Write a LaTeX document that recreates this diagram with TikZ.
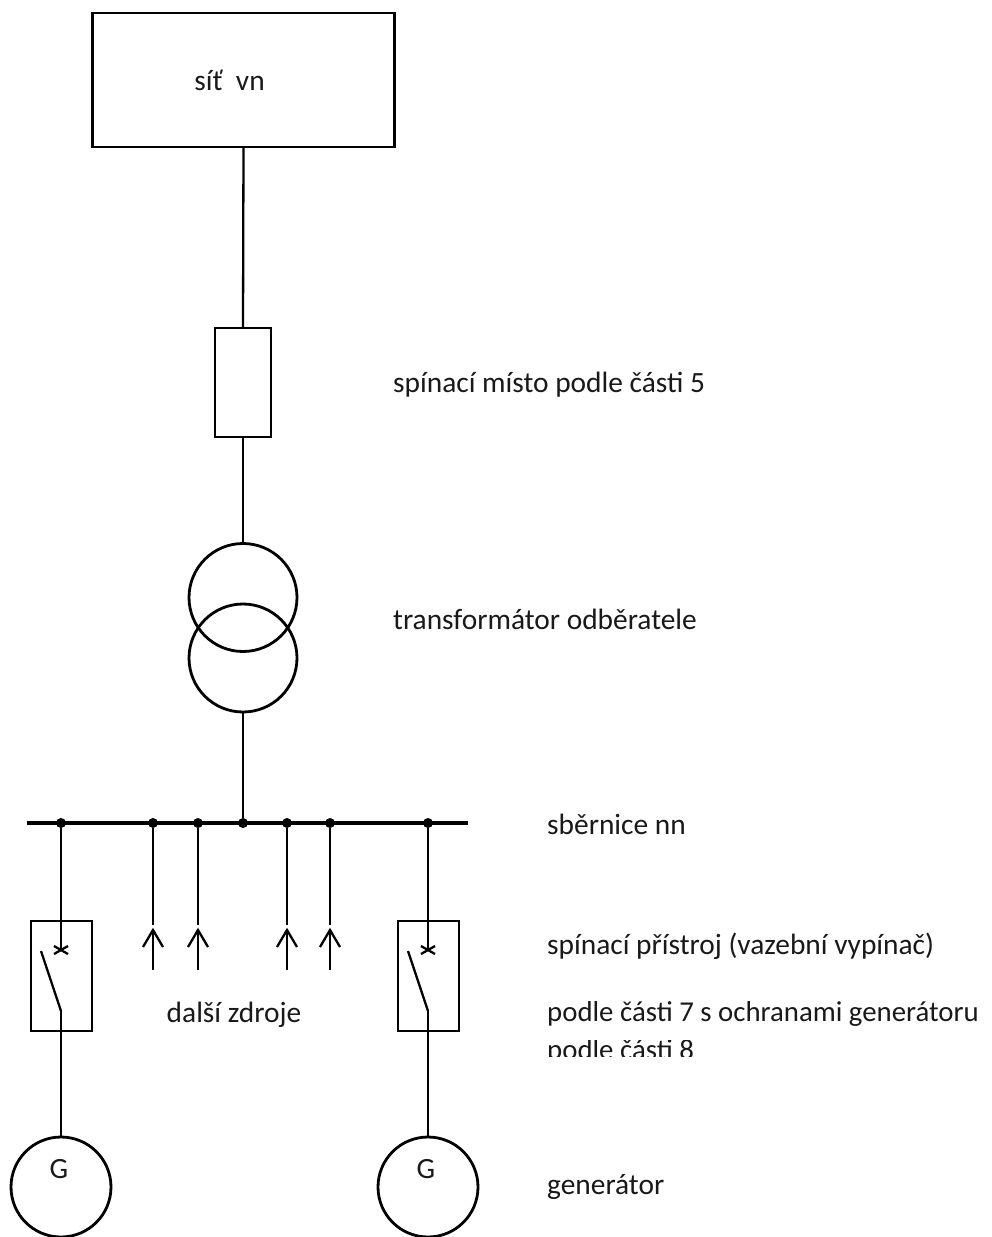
\documentclass[tikz,border=0pt]{standalone}
\usepackage{fontspec}
\setmainfont{Carlito}
\begin{document}
\begin{tikzpicture}[x=1pt,y=-1pt,
  wire/.style={line width=2.3pt,black},
  box/.style={draw,line width=2.8pt,inner sep=0pt,outer sep=0pt,rectangle},
  ring/.style={draw,line width=2.8pt,inner sep=0pt,outer sep=0pt,circle,minimum size=108pt},
  gen/.style={draw,line width=2.8pt,inner sep=0pt,outer sep=0pt,circle,minimum size=100pt},
  dot/.style={fill=black,circle,inner sep=0pt,outer sep=0pt,minimum size=10pt},
  lbl/.style={anchor=base west,inner sep=0pt,font=\fontsize{29.4}{32}\selectfont,text=black!90},
  lblnarrow/.style={lbl,font=\fontsize{28.8}{32}\selectfont},
  clbl/.style={anchor=base,inner sep=0pt,font=\fontsize{29.4}{32}\selectfont,text=black!90}]
\useasboundingbox (0,0) rectangle (992,1237);
\fill[white] (0,0) rectangle (992,1237);
\begin{scope}
\clip (0,0) rectangle (992,1237);
% boxes
\node[box,minimum width=302pt,minimum height=134pt] (net) at (243.5,80) {};
\node[clbl] (netl) at (229.5,90) {síť\ \ vn};
\node[box,minimum width=56pt,minimum height=109pt] (fuse) at (243,382.5) {};
\node[ring] (tu) at (243,597.5) {};
\node[ring] (tl) at (243,658) {};
% busbar
\coordinate (busl) at (27,823);
\coordinate (busr) at (468,823);
\draw[line width=4.6pt] (busl) -- (busr);
\node[dot] (d0) at (243,823) {};
\node[dot] (d1) at (61,823) {};
\node[dot] (d2) at (153,823) {};
\node[dot] (d3) at (198,823) {};
\node[dot] (d4) at (287,823) {};
\node[dot] (d5) at (330,823) {};
\node[dot] (d6) at (428,823) {};
% main feed
\draw[wire] (net.south) -- (fuse.north);
\draw[wire] (fuse.south) -- (tu.north);
\draw[wire] (tl.south) -- (d0);
% generator branches
\node[box,minimum width=61pt,minimum height=110pt] (sw1) at (61.5,976) {};
\node[box,minimum width=61pt,minimum height=110pt] (sw2) at (428.5,976) {};
\node[gen] (g1) at (61,1187) {};
\node[gen] (g2) at (428,1187) {};
\coordinate (c1) at (61,950);
\coordinate (c2) at (428,950);
\coordinate (h1) at (61,1011);
\coordinate (h2) at (428,1011);
\coordinate (k1) at (41,951);
\coordinate (k2) at (408,951);
\draw[wire] (d1) -- (c1);
\draw[wire] (d6) -- (c2);
\draw[wire] (h1) -- (g1.north);
\draw[wire] (h2) -- (g2.north);
\draw[wire] (k1) -- (h1);
\draw[wire] (k2) -- (h2);
\draw[wire] ([shift={(-7,-4)}]c1) -- ([shift={(7,4)}]c1);
\draw[wire] ([shift={(-7,4)}]c1) -- ([shift={(7,-4)}]c1);
\draw[wire] ([shift={(-7,-4)}]c2) -- ([shift={(7,4)}]c2);
\draw[wire] ([shift={(-7,4)}]c2) -- ([shift={(7,-4)}]c2);
% other sources
\foreach \n/\x/\d in {a/153/d2,b/198/d3,c/287/d4,d/330/d5}{
  \coordinate (\n e) at (\x,925);
  \coordinate (\n t) at (\x,930);
  \coordinate (\n b) at (\x,970);
  \draw[wire] (\d) -- (\n e);
  \draw[wire] (\n b) -- (\n t);
  \draw[wire] ([shift={(-10,17)}]\n t) -- (\n t) -- ([shift={(10,17)}]\n t);
}
% labels
\node[clbl] (gl1) at (59,1178) {G};
\node[clbl] (gl2) at (426,1178) {G};
\node[clbl] (src) at (234,1022) {další zdroje};
\node[lbl] (l1) at (393,392) {spínací místo podle části 5};
\node[lbl] (l2) at (393,629) {transformátor odběratele};
\node[lbl] (l3) at (547,834) {sběrnice nn};
\node[lbl] (l4) at (547,954) {spínací přístroj (vazební vypínač)};
\node[lblnarrow] (l5) at (547,1021) {podle části 7 s ochranami generátoru};
\begin{scope}
\clip (540,1040) rectangle (992,1056);
\node[lblnarrow] (l6) at (547,1059) {podle části 8};
\end{scope}
\node[lbl] (l7) at (547,1194) {generátor};
\end{scope}
\end{tikzpicture}
\end{document}
